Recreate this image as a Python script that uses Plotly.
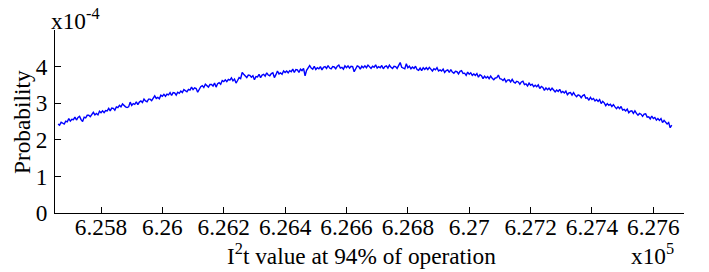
import plotly.graph_objects as go

# x in units of 1e5 (I^2 t value), y in units of 1e-4 (probability)
x_start = 6.2566
x_step = 0.00005

prob = [
    2.43, 2.40, 2.48, 2.45, 2.43, 2.51, 2.49, 2.58, 2.51, 2.56,
    2.55, 2.62, 2.54, 2.61, 2.64, 2.55, 2.50, 2.62, 2.60, 2.67,
    2.67, 2.63, 2.71, 2.75, 2.68, 2.72, 2.68, 2.78, 2.74, 2.79,
    2.74, 2.80, 2.79, 2.86, 2.79, 2.87, 2.86, 2.81, 2.90, 2.88,
    2.94, 2.90, 2.98, 2.93, 2.90, 2.88, 2.90, 3.03, 2.94, 2.99,
    2.97, 3.04, 2.96, 3.03, 3.06, 3.02, 3.11, 3.06, 3.04, 3.11,
    3.11, 3.07, 3.15, 3.20, 3.13, 3.16, 3.12, 3.22, 3.19, 3.24,
    3.19, 3.25, 3.23, 3.29, 3.21, 3.29, 3.28, 3.22, 3.30, 3.27,
    3.33, 3.29, 3.37, 3.34, 3.31, 3.38, 3.36, 3.44, 3.37, 3.42,
    3.40, 3.30, 3.39, 3.45, 3.48, 3.43, 3.52, 3.47, 3.44, 3.51,
    3.51, 3.47, 3.55, 3.44, 3.53, 3.56, 3.52, 3.62, 3.59, 3.64,
    3.59, 3.65, 3.63, 3.69, 3.61, 3.66, 3.55, 3.62, 3.70, 3.67,
    3.84, 3.79, 3.74, 3.70, 3.77, 3.76, 3.71, 3.75, 3.64, 3.73,
    3.72, 3.79, 3.70, 3.77, 3.79, 3.74, 3.83, 3.77, 3.75, 3.81,
    3.83, 3.70, 3.78, 3.88, 3.80, 3.83, 3.79, 3.88, 3.84, 3.88,
    3.83, 3.89, 3.86, 3.93, 3.84, 3.92, 3.91, 3.84, 3.93, 3.89,
    3.95, 3.75, 3.90, 3.98, 4.03, 3.96, 3.93, 4.01, 3.92, 3.97,
    3.94, 4.00, 3.91, 3.98, 4.00, 3.95, 4.03, 3.96, 3.94, 4.00,
    3.99, 3.94, 4.01, 4.04, 3.96, 3.98, 3.93, 4.02, 3.97, 4.02,
    3.96, 4.01, 4.00, 3.86, 3.95, 4.02, 4.00, 3.93, 4.01, 3.97,
    4.02, 3.97, 4.04, 3.99, 3.95, 4.01, 3.98, 4.05, 3.96, 4.00,
    3.97, 4.03, 3.94, 4.00, 4.02, 3.96, 4.04, 3.98, 3.95, 4.01,
    4.00, 3.95, 4.03, 4.11, 3.98, 3.97, 3.94, 4.08, 3.97, 4.01,
    3.94, 3.99, 3.95, 4.01, 3.92, 3.90, 3.96, 3.89, 3.97, 3.92,
    3.97, 3.92, 3.98, 3.93, 3.88, 3.94, 3.91, 3.97, 3.88, 3.91,
    3.88, 3.93, 3.84, 3.89, 3.91, 3.84, 3.92, 3.85, 3.82, 3.87,
    3.86, 3.80, 3.87, 3.89, 3.81, 3.82, 3.76, 3.85, 3.79, 3.83,
    3.76, 3.80, 3.76, 3.81, 3.71, 3.78, 3.75, 3.67, 3.74, 3.69,
    3.73, 3.67, 3.74, 3.68, 3.64, 3.69, 3.70, 3.77, 3.67, 3.66,
    3.62, 3.67, 3.58, 3.63, 3.64, 3.58, 3.65, 3.58, 3.55, 3.60,
    3.58, 3.52, 3.58, 3.60, 3.51, 3.53, 3.47, 3.55, 3.49, 3.52,
    3.45, 3.49, 3.45, 3.50, 3.40, 3.46, 3.43, 3.35, 3.42, 3.37,
    3.41, 3.35, 3.41, 3.36, 3.31, 3.36, 3.32, 3.38, 3.29, 3.32,
    3.28, 3.33, 3.23, 3.28, 3.29, 3.22, 3.29, 3.22, 3.18, 3.23,
    3.21, 3.15, 3.21, 3.23, 3.14, 3.15, 3.08, 3.16, 3.10, 3.13,
    3.06, 3.10, 3.05, 3.10, 2.99, 3.05, 3.01, 2.93, 2.99, 2.94,
    2.97, 2.91, 2.96, 2.90, 2.85, 2.90, 2.85, 2.91, 2.81, 2.83,
    2.79, 2.84, 2.74, 2.78, 2.79, 2.72, 2.79, 2.72, 2.67, 2.72,
    2.70, 2.64, 2.70, 2.71, 2.62, 2.63, 2.57, 2.65, 2.58, 2.61,
    2.54, 2.58, 2.53, 2.58, 2.47, 2.53, 2.49, 2.43, 2.47, 2.33,
    2.40,
]
i2t = [round(x_start + k * x_step, 6) for k in range(len(prob))]

x_tickvals = [6.258, 6.260, 6.262, 6.264, 6.266, 6.268, 6.270, 6.272, 6.274, 6.276]
x_ticktext = ["6.258", "6.26", "6.262", "6.264", "6.266", "6.268", "6.27", "6.272", "6.274", "6.276"]
y_tickvals = [0, 1, 2, 3, 4]
y_ticktext = ["0", "1", "2", "3", "4"]

FONT = "Liberation Serif"
FS = 23.3

# plot area in pixels
L, R, T, B = 55, 684, 30, 213
PW, PH = R - L, B - T


def px(x):
    return (x - L) / PW


def py(y):
    return (B - y) / PH


fig = go.Figure()
fig.add_trace(go.Scatter(x=i2t, y=prob, mode="lines",
                         line=dict(color="#0000ff", width=1.4),
                         showlegend=False, hoverinfo="skip"))

fig.update_layout(
    width=709, height=272,
    margin=dict(l=L, r=709 - R, t=T, b=272 - B),
    paper_bgcolor="white", plot_bgcolor="white",
    font=dict(family=FONT, size=FS, color="black"),
    xaxis=dict(range=[6.2565, 6.277], tickvals=x_tickvals, ticktext=x_ticktext,
               showgrid=False, zeroline=False, showline=True, linecolor="black",
               linewidth=1, ticks="inside", ticklen=6, tickcolor="black",
               ticklabelstandoff=-7,
               tickfont=dict(family=FONT, size=FS)),
    yaxis=dict(range=[0, 5], tickvals=y_tickvals, ticktext=y_ticktext,
               showgrid=False, zeroline=False, showline=True, linecolor="black",
               linewidth=1, ticks="inside", ticklen=6, tickcolor="black",
               ticklabelstandoff=2,
               tickfont=dict(family=FONT, size=FS)),
    annotations=[
        dict(text="Probability", xref="paper", yref="paper",
             x=px(22), y=py(122), xanchor="center", yanchor="middle", textangle=-90,
             showarrow=False, font=dict(family=FONT, size=FS)),
        dict(text="I<sup>2</sup>t value at 94% of operation", xref="paper", yref="paper",
             x=px(361), y=py(254), xanchor="center", yanchor="middle",
             showarrow=False, font=dict(family=FONT, size=FS)),
        dict(text="x10<sup>5</sup>", xref="paper", yref="paper",
             x=px(676), y=py(254), xanchor="right", yanchor="middle",
             showarrow=False, font=dict(family=FONT, size=FS)),
        dict(text="x10<sup>-4</sup>", xref="paper", yref="paper",
             x=px(49), y=py(19), xanchor="left", yanchor="middle",
             showarrow=False, font=dict(family=FONT, size=FS)),
    ],
)

fig.write_html("out.html", config={"displayModeBar": False},
               post_script="document.body.style.margin='0';document.body.style.padding='0';")
